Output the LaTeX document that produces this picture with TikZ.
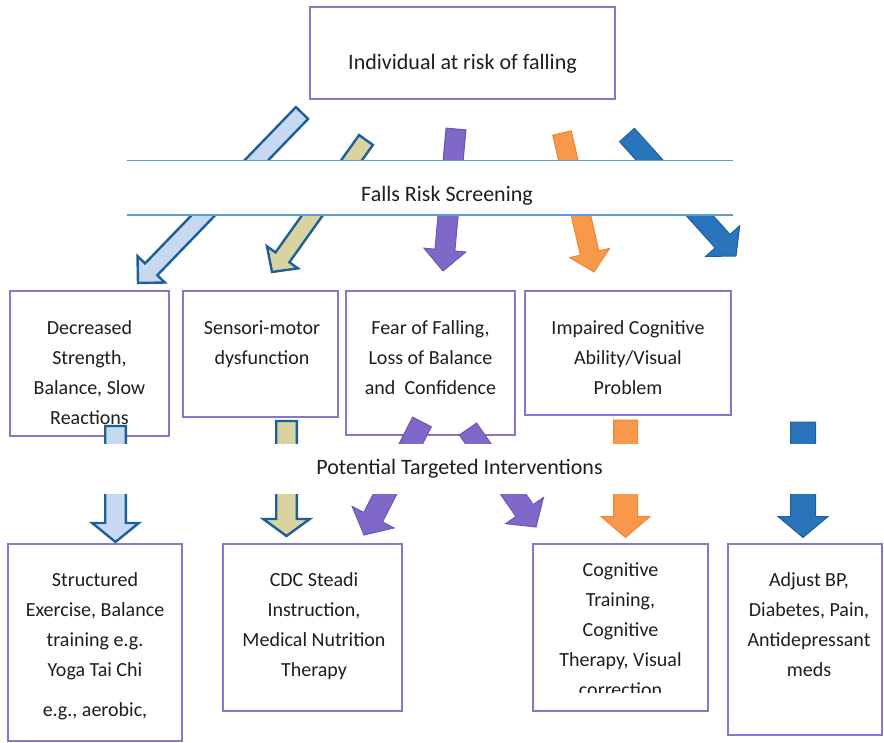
\documentclass[tikz,border=0pt]{standalone}
\usepackage{fontspec}
\setmainfont{Carlito}
\usetikzlibrary{positioning, calc}

\definecolor{boxpurple}{RGB}{134,118,204}
\definecolor{bandblue}{RGB}{91,155,213}
\definecolor{inkgray}{RGB}{30,30,30}
\definecolor{paleblue}{RGB}{198,217,241}
\definecolor{khaki}{RGB}{216,211,160}
\definecolor{rimblue}{RGB}{31,95,153}
\definecolor{arrpurple}{RGB}{128,104,200}
\definecolor{arrpurpleline}{RGB}{108,86,178}
\definecolor{arrorange}{RGB}{247,152,74}
\definecolor{arrorangeline}{RGB}{240,134,52}
\definecolor{arrblue}{RGB}{42,116,187}

\tikzset{
  riskbox/.style={draw=boxpurple, line width=2.9pt, fill=white, inner sep=0pt},
  boxtext/.style={font=\fontsize{20}{30}\selectfont, text=inkgray, align=center, inner sep=0pt},
  bandtext/.style={font=\fontsize{22}{26}\selectfont, text=inkgray, inner sep=0pt},
  bandline/.style={draw=bandblue, line width=1.4pt},
  whiteband/.style={fill=white, inner sep=0pt}
}
\tikzset{
  paleblk/.style={fill=paleblue, draw=rimblue, line width=2.4pt},
  khakiblk/.style={fill=khaki, draw=rimblue, line width=2.4pt},
  purpleblk/.style={fill=arrpurple, draw=arrpurpleline, line width=1pt},
  orangeblk/.style={fill=arrorange, draw=arrorangeline, line width=1pt},
  blueblk/.style={fill=arrblue, draw=rimblue, line width=1pt}
}
% block arrow: style, tail, tip, shaft half width, head half width, head length
\newcommand{\blockarrow}[6]{%
  \coordinate (hb) at ($(#3)!#6!(#2)$);
  \draw[#1] ($(#2)!#4!-90:(#3)$) -- ($(hb)!#4!-90:(#3)$) -- ($(hb)!#5!-90:(#3)$)
    -- (#3) -- ($(hb)!#5!90:(#3)$) -- ($(hb)!#4!90:(#3)$) -- ($(#2)!#4!90:(#3)$) -- cycle;
}

\begin{document}
\begin{tikzpicture}[x=1pt, y=-1pt]
  \useasboundingbox (0,0) rectangle (884,743);
  % top box
  \node (person) [riskbox, bandtext, minimum width=305pt, minimum height=92pt,
    text height=34pt, text depth=0pt] at (462.5,53) {Individual at risk of falling};

  % problem boxes
  \node (strength) [riskbox, minimum width=159pt, minimum height=145pt] at (89.5,363.5) {};
  \node (sensori) [riskbox, minimum width=155pt, minimum height=126pt] at (260.5,354) {};
  \node (fear) [riskbox, minimum width=169pt, minimum height=144pt] at (430.5,363) {};
  \node (cognitive) [riskbox, minimum width=206pt, minimum height=124pt] at (628,353) {};
  \node (strengthtxt) [boxtext, below=31pt of strength.north] {Decreased\\Strength,\\Balance, Slow\\Reactions};
  \node (sensoritxt) [boxtext, below=31pt of sensori.north, xshift=1.5pt] {Sensori-motor\\dysfunction};
  \node (feartxt) [boxtext, below=31pt of fear.north] {Fear of Falling,\\Loss of Balance\\and\ \ Confidence};
  \node (cognitivetxt) [boxtext, below=31pt of cognitive.north] {Impaired Cognitive\\Ability/Visual\\Problem};

  % arrows through the screening band
  \coordinate (up1) at (302,113);  \coordinate (down1) at (138,283);
  \coordinate (up2) at (366,140);  \coordinate (down2) at (272,272);
  \coordinate (up3) at (456,129);  \coordinate (down3) at (443,271);
  \coordinate (up4) at (562,133);  \coordinate (down4) at (594,272);
  \coordinate (up5) at (627,135);  \coordinate (down5) at (736,256);
  \blockarrow{paleblk}{up1}{down1}{8.5pt}{19pt}{19pt}
  \blockarrow{khakiblk}{up2}{down2}{8.5pt}{19pt}{18pt}
  \blockarrow{purpleblk}{up3}{down3}{10pt}{21pt}{21pt}
  \blockarrow{orangeblk}{up4}{down4}{9.5pt}{20.5pt}{19.5pt}
  \blockarrow{blueblk}{up5}{down5}{10pt}{23pt}{20pt}

  % arrows through the interventions band
  \coordinate (from1) at (115.5,426); \coordinate (to1) at (115.5,542);
  \coordinate (from2) at (286.5,421); \coordinate (to2) at (286.5,536);
  \coordinate (from3) at (422,422);   \coordinate (to3) at (364,535);
  \coordinate (from4) at (468,429);   \coordinate (to4) at (536,527);
  \coordinate (from5) at (625.5,420); \coordinate (to5) at (625.5,537.5);
  \coordinate (from6) at (803,422);   \coordinate (to6) at (803,537.5);
  \blockarrow{paleblk}{from1}{to1}{10.3pt}{23.3pt}{19pt}
  \blockarrow{khakiblk}{from2}{to2}{10.3pt}{23.3pt}{17pt}
  \blockarrow{purpleblk}{from3}{to3}{10.5pt}{23.5pt}{20pt}
  \blockarrow{purpleblk}{from4}{to4}{10.5pt}{23pt}{20pt}
  \blockarrow{orangeblk}{from5}{to5}{12pt}{24.5pt}{21pt}
  \blockarrow{blueblk}{from6}{to6}{12.5pt}{25pt}{21pt}

  % screening band
  \node (screenband) [whiteband, minimum width=606pt, minimum height=54pt] at (430,188) {};
  \draw[bandline] (screenband.north west) -- (screenband.north east);
  \draw[bandline] (screenband.south west) -- (screenband.south east);
  \node (screening) [bandtext, anchor=base] at (447,202) {Falls Risk Screening};

  % interventions band
  \node (intband) [whiteband, minimum width=760pt, minimum height=50pt] at (460,469) {};
  \node (interventions) [bandtext, anchor=base] at (459.5,474) {Potential Targeted Interventions};

  % intervention boxes
  \node (exercise) [riskbox, minimum width=174pt, minimum height=197pt] at (95,642.5) {};
  \node (steadi) [riskbox, minimum width=179pt, minimum height=167pt] at (312.5,627.5) {};
  \node (training) [riskbox, minimum width=175pt, minimum height=167pt] at (620.5,627.5) {};
  \node (meds) [riskbox, minimum width=154pt, minimum height=191pt] at (805,639.5) {};
  \node (exercisetxt) [boxtext, below=30pt of exercise.north] {Structured\\Exercise, Balance\\training e.g.\\Yoga Tai Chi\\[10pt]e.g., aerobic,};
  \node (steaditxt) [boxtext, below=30pt of steadi.north, xshift=1.5pt] {CDC Steadi\\Instruction,\\Medical Nutrition\\Therapy};
  \begin{scope}
    \clip (533,544) rectangle (708,692);
    \node (trainingtxt) [boxtext, below=20pt of training.north] {Cognitive\\Training,\\Cognitive\\Therapy, Visual\\correction};
  \end{scope}
  \node (medstxt) [boxtext, below=30pt of meds.north, xshift=4pt] {Adjust BP,\\Diabetes, Pain,\\Antidepressant\\meds};
\end{tikzpicture}
\end{document}
